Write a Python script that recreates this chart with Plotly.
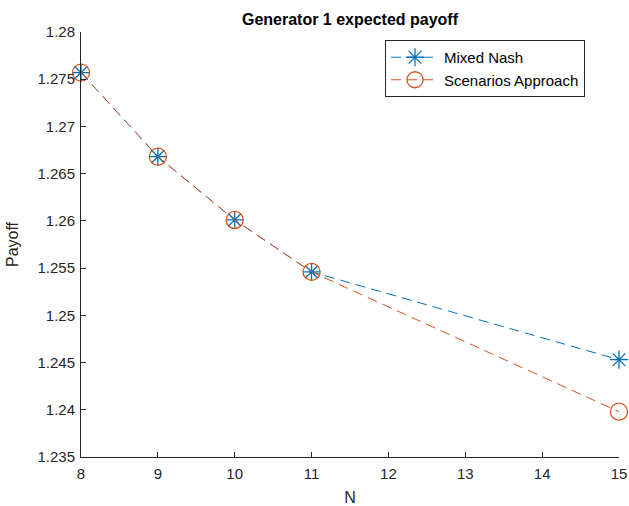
import plotly.graph_objects as go

N_vals = [8, 9, 10, 11, 15]
mixed_nash = [1.2757, 1.2668, 1.2601, 1.2546, 1.2453]
scenarios = [1.2757, 1.2668, 1.2601, 1.2546, 1.2398]

x_ticks = [8, 9, 10, 11, 12, 13, 14, 15]
y_ticks = [1.235, 1.24, 1.245, 1.25, 1.255, 1.26, 1.265, 1.27, 1.275, 1.28]
y_ticktext = ["1.235", "1.24", "1.245", "1.25", "1.255", "1.26", "1.265", "1.27", "1.275", "1.28"]

blue = "#0072BD"
orange = "#D95319"
axis_col = "#262626"
font_fam = "Liberation Sans, Arial, sans-serif"

fig = go.Figure()
fig.add_trace(go.Scatter(
    x=N_vals, y=mixed_nash, name="Mixed Nash", mode="lines+markers",
    line=dict(color=blue, width=1, dash="10px,6px"),
    marker=dict(symbol="asterisk-open", size=15, color=blue, line=dict(color=blue, width=1.3)),
    cliponaxis=False,
))
fig.add_trace(go.Scatter(
    x=N_vals, y=scenarios, name="Scenarios Approach", mode="lines+markers",
    line=dict(color=orange, width=1, dash="10px,6px"),
    marker=dict(symbol="circle-open", size=17, color=orange, line=dict(color=orange, width=1.3)),
    cliponaxis=False,
))

fig.update_layout(
    width=629, height=506,
    margin=dict(l=81, r=10, t=32, b=49, autoexpand=False),
    paper_bgcolor="white", plot_bgcolor="white",
    font=dict(family=font_fam, size=15, color=axis_col),
    title=dict(text="<b>Generator 1 expected payoff</b>", x=0.5, xref="paper",
               y=1 - 19 / 506, yref="container", yanchor="middle", xanchor="center",
               font=dict(size=16, color="black", family=font_fam)),
    showlegend=True,
    legend=dict(x=(385 - 81) / 538, y=1 - (40 - 32) / 425, xref="paper", yref="paper",
                xanchor="left", yanchor="top",
                bordercolor=axis_col, borderwidth=1, bgcolor="white",
                font=dict(size=15, color="black"), tracegroupgap=0,
                itemwidth=48),
    xaxis=dict(range=[8, 15], tickvals=x_ticks, ticks="inside", ticklen=5,
               tickcolor=axis_col, showline=True, linecolor=axis_col, linewidth=1,
               showgrid=False, zeroline=False, mirror=False, automargin=False,
               ticklabelstandoff=3,
               title=dict(text="N", font=dict(size=16), standoff=14)),
    yaxis=dict(range=[1.235, 1.28], tickvals=y_ticks, ticktext=y_ticktext,
               ticks="inside", ticklen=5,
               tickcolor=axis_col, showline=True, linecolor=axis_col, linewidth=1,
               showgrid=False, zeroline=False, mirror=False, automargin=False,
               ticklabelstandoff=2,
               title=dict(text="Payoff", font=dict(size=16), standoff=14)),
)

fig.write_html("out.html")
